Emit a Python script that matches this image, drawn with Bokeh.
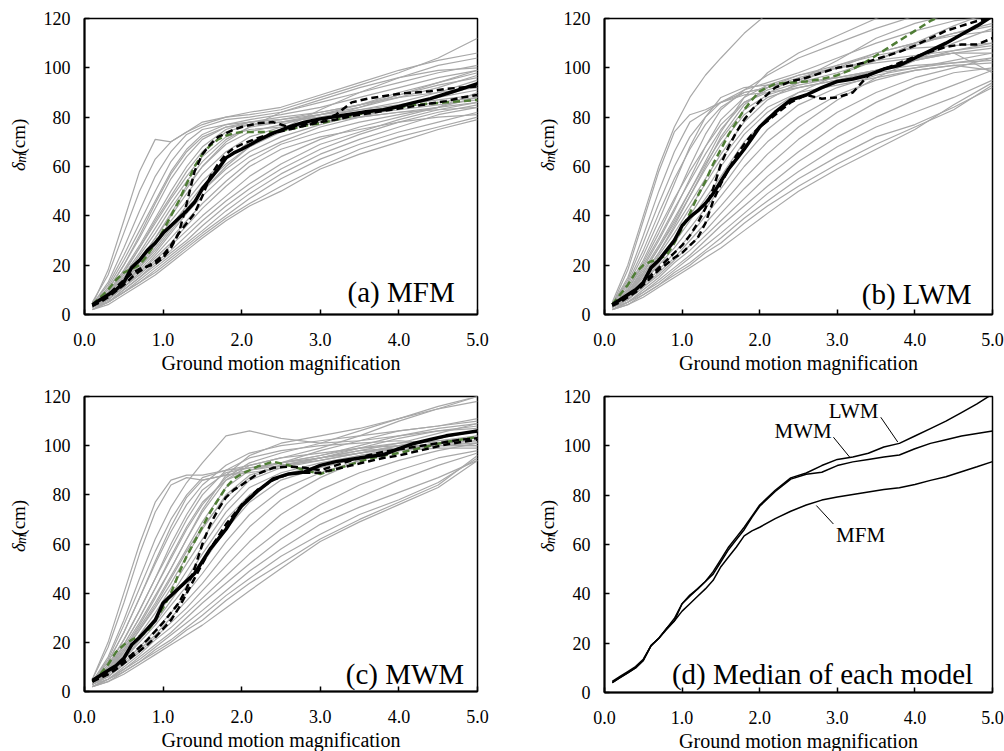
import numpy as np
from bokeh.plotting import figure
from bokeh.layouts import column, row
from bokeh.models import Range1d, FixedTicker, PrintfTickFormatter, Label
from bokeh.embed import file_html
from bokeh.resources import INLINE
from bokeh.core.properties import value

# ---------------- data ----------------
XG = [0.1, 0.3, 0.5, 0.7, 0.9, 1.1, 1.3, 1.5, 1.8, 2.1, 2.5, 3.0, 3.5, 4.0, 4.5, 5.0]
XM = [0.1, 0.2, 0.3, 0.4, 0.5, 0.6, 0.7, 0.8, 0.9, 1.0, 1.1, 1.2, 1.3, 1.4, 1.5, 1.6, 1.7, 1.8, 1.9, 2.0,
      2.2, 2.4, 2.6, 2.8, 3.0, 3.2, 3.4, 3.6, 3.8, 4.0, 4.2, 4.4, 4.6, 4.8, 5.0]
X_TICKS = [0, 1, 2, 3, 4, 5]
Y_TICKS = [0, 20, 40, 60, 80, 100, 120]

mfm_gray = [
    [4, 18, 38, 58, 71, 70, 74, 77, 80, 81, 83, 88, 93, 98, 104, 112],
    [5, 16, 33, 50, 63, 70, 74, 78, 80, 82, 84, 89, 94, 99, 103, 106],
    [4, 13, 27, 42, 56, 66, 73, 76, 79, 80, 82, 86, 90, 94, 98, 101],
    [4, 12, 24, 37, 50, 62, 70, 75, 77, 79, 81, 84, 88, 92, 96, 99],
    [3, 11, 22, 34, 46, 58, 67, 73, 77, 78, 79, 82, 85, 88, 90, 92],
    [4, 10, 20, 31, 43, 55, 64, 71, 76, 78, 79, 81, 83, 85, 87, 89],
    [3, 9, 17, 27, 38, 48, 58, 66, 74, 77, 78, 81, 84, 88, 92, 97],
    [3, 8, 16, 25, 35, 45, 54, 62, 71, 76, 78, 80, 83, 86, 90, 95],
    [3, 8, 15, 24, 33, 43, 52, 60, 69, 74, 77, 81, 85, 90, 94, 98],
    [3, 7, 14, 22, 31, 40, 49, 57, 66, 72, 76, 79, 81, 83, 85, 87],
    [3, 7, 13, 21, 29, 38, 46, 54, 63, 70, 75, 78, 80, 82, 84, 86],
    [3, 7, 13, 20, 28, 36, 44, 52, 61, 68, 74, 79, 84, 89, 94, 99],
    [3, 6, 12, 19, 27, 35, 43, 50, 59, 66, 72, 77, 81, 85, 88, 91],
    [3, 6, 12, 18, 25, 33, 41, 48, 57, 64, 70, 76, 80, 84, 88, 93],
    [3, 6, 11, 17, 24, 31, 38, 45, 54, 62, 69, 74, 78, 81, 84, 88],
    [3, 6, 11, 16, 22, 28, 34, 40, 48, 56, 64, 71, 76, 80, 84, 90],
    [3, 5, 10, 15, 21, 26, 32, 38, 46, 53, 61, 69, 74, 79, 83, 86],
    [3, 5, 10, 15, 20, 25, 30, 36, 44, 51, 59, 67, 73, 78, 82, 85],
    [2, 5, 9, 14, 19, 24, 29, 34, 42, 49, 57, 65, 71, 76, 81, 84],
    [2, 5, 9, 13, 18, 23, 28, 33, 40, 47, 55, 63, 69, 74, 78, 82],
    [2, 5, 9, 13, 17, 22, 27, 32, 39, 45, 52, 60, 67, 72, 76, 80],
    [2, 4, 8, 12, 16, 21, 26, 31, 38, 44, 50, 59, 65, 70, 75, 79],
    [3, 6, 12, 19, 26, 34, 42, 50, 60, 68, 75, 83, 90, 96, 101, 104],
    [3, 7, 14, 22, 31, 41, 51, 60, 70, 76, 82, 87, 92, 96, 99, 100],
    [4, 9, 18, 28, 39, 50, 60, 68, 75, 78, 80, 82, 85, 89, 93, 96],
    [4, 10, 20, 32, 45, 57, 66, 72, 76, 77, 78, 80, 82, 84, 86, 88],
    [3, 8, 17, 27, 37, 47, 56, 64, 72, 75, 76, 78, 80, 82, 83, 84],
    [3, 6, 11, 17, 23, 29, 36, 43, 52, 60, 67, 72, 75, 78, 80, 81],
]
mfm_median = [4, 6, 8, 10, 13, 19, 22, 26, 29, 33, 36, 39, 42, 45.5, 51, 55, 59, 63.5, 65.5, 67,
              70.5, 73.5, 76, 78, 79.3, 80.3, 81.3, 82.3, 83, 84.3, 86, 87.5, 89.5, 91.5, 93.6]
mfm_upper = [3.5, 5.5, 8, 11, 14, 16.5, 18.5, 19.5, 20.5, 23, 27, 33, 45, 58, 65, 69, 72, 73.5, 75, 76,
             77.5, 78, 76, 77, 78.5, 81, 86, 87.5, 88.5, 89.5, 90, 90.5, 91.5, 92, 92.5]
mfm_lower = [3.5, 5, 7, 9.5, 12, 15, 17.5, 19.5, 21.5, 24, 28, 33, 37, 41, 48, 56, 61, 65, 67.5, 69,
             71.5, 73.5, 75, 76.5, 78, 79, 80.5, 81.5, 82.5, 83.5, 84.5, 85.5, 86.5, 88, 89]
mfm_green = [4, 7, 10, 14, 17, 18.5, 20, 24, 29, 34, 40, 46, 53, 60, 65, 68.5, 71, 72.5, 73.5, 74,
             74, 74, 75, 76.5, 77.5, 79, 80.5, 82, 83, 84, 85, 85.5, 86, 86.5, 87]

lwm_gray = [
    [5, 20, 40, 60, 76, 88, 97, 104, 114, 122, 128, 132, 136, 140, 144, 148],
    [4, 18, 38, 58, 74, 81, 83, 86, 90, 92, 95, 100, 106, 110, 114, 117],
    [4, 15, 32, 50, 66, 78, 82, 86, 91, 97, 104, 110, 116, 121, 126, 130],
    [4, 14, 29, 45, 60, 72, 80, 86, 89, 90, 92, 95, 99, 103, 106, 108],
    [4, 13, 26, 41, 55, 67, 77, 84, 90, 92, 96, 100, 103, 105, 107, 110],
    [3, 11, 22, 35, 47, 58, 68, 77, 86, 90, 94, 98, 103, 110, 117, 123],
    [3, 10, 20, 31, 43, 54, 65, 75, 86, 91, 95, 103, 112, 118, 122, 125],
    [3, 9, 18, 28, 39, 50, 61, 71, 83, 89, 93, 96, 99, 101, 102, 103],
    [3, 9, 17, 27, 37, 48, 59, 69, 81, 88, 92, 95, 98, 100, 102, 104],
    [3, 8, 16, 25, 35, 45, 55, 65, 78, 87, 94, 101, 106, 110, 113, 115],
    [3, 8, 15, 24, 33, 43, 53, 63, 75, 84, 90, 93, 96, 99, 101, 99],
    [3, 7, 14, 22, 31, 40, 50, 60, 73, 82, 90, 97, 103, 109, 114, 118],
    [3, 7, 13, 21, 29, 38, 47, 56, 70, 80, 88, 94, 99, 103, 107, 109],
    [3, 7, 13, 20, 27, 35, 43, 51, 64, 75, 85, 92, 97, 100, 103, 106],
    [3, 6, 12, 18, 25, 32, 40, 48, 60, 70, 80, 89, 95, 99, 101, 102],
    [3, 6, 11, 17, 23, 30, 37, 44, 55, 65, 76, 87, 96, 103, 110, 116],
    [3, 6, 11, 16, 22, 28, 34, 41, 51, 60, 71, 82, 90, 96, 100, 104],
    [3, 5, 10, 15, 21, 26, 32, 38, 47, 56, 66, 77, 86, 93, 98, 100],
    [2, 5, 9, 14, 19, 24, 30, 36, 44, 52, 62, 72, 80, 87, 93, 99],
    [2, 5, 9, 13, 18, 23, 28, 33, 41, 49, 58, 68, 76, 82, 88, 95],
    [2, 5, 8, 12, 17, 21, 26, 31, 39, 46, 55, 64, 72, 77, 84, 92],
    [2, 4, 8, 12, 16, 20, 25, 29, 37, 44, 52, 61, 69, 76, 83, 93],
    [2, 4, 7, 11, 15, 19, 23, 27, 34, 41, 50, 59, 67, 75, 85, 94],
    [3, 8, 17, 27, 38, 50, 62, 74, 88, 98, 106, 113, 120, 126, 130, 134],
    [3, 10, 21, 33, 46, 60, 73, 83, 91, 94, 98, 104, 110, 115, 119, 121],
    [4, 12, 24, 38, 53, 68, 80, 88, 92, 93, 94, 96, 99, 103, 106, 106],
    [3, 9, 19, 30, 42, 55, 68, 79, 88, 93, 97, 101, 105, 108, 109, 110],
    [3, 8, 16, 25, 36, 48, 60, 72, 85, 92, 97, 100, 102, 104, 106, 98],
]
lwm_median = [4, 6, 8, 10, 13, 19, 22, 26, 30, 36, 39.5, 42, 45, 49, 54, 59, 63, 67, 71.5, 76,
              82, 87, 89, 92, 94.5, 95.5, 97, 99.5, 101, 104, 107, 110, 113.5, 117, 121]
lwm_upper = [4, 6, 8, 10, 13, 16, 19, 22, 25, 28, 32, 37, 43, 51, 61, 68, 74, 79, 83, 86.5,
             92, 94.5, 96, 98, 100, 101, 102.5, 104.5, 106.5, 109, 112, 115, 117, 119, 120.5]
lwm_lower = [3.5, 5, 7, 9, 12, 15, 18, 20.5, 23, 25, 28, 31, 37, 46, 53, 59, 64.5, 69, 73, 76,
             81, 86, 89, 87.5, 88, 90, 97, 99.5, 102, 104.5, 106.5, 108.5, 109.5, 109.5, 112]
lwm_green = [4, 8, 12, 17, 20, 21.5, 22.5, 24, 29, 35, 41, 48, 54, 61, 67, 73, 78, 83, 87, 90.5,
             93.5, 94, 94.5, 95.5, 97, 99.5, 103, 107, 111, 115, 119, 122, 125, 128, 131]

mwm_gray = [
    [5, 20, 40, 60, 77, 86, 88, 88, 90, 92, 95, 99, 104, 110, 115, 120],
    [5, 18, 36, 56, 73, 84, 87, 86, 88, 90, 93, 98, 102, 106, 108, 110],
    [4, 14, 29, 46, 62, 75, 85, 93, 104, 106, 103, 101, 102, 104, 106, 108],
    [4, 13, 27, 42, 57, 70, 80, 87, 90, 91, 93, 96, 100, 104, 107, 109],
    [4, 12, 24, 38, 52, 65, 76, 84, 92, 97, 100, 102, 104, 106, 108, 111],
    [3, 11, 21, 33, 46, 58, 70, 80, 90, 95, 98, 100, 101, 102, 101, 101],
    [3, 10, 19, 30, 42, 54, 66, 76, 87, 93, 97, 101, 106, 111, 115, 118],
    [3, 9, 18, 28, 39, 50, 62, 73, 86, 92, 95, 97, 99, 101, 102, 103],
    [3, 9, 17, 26, 36, 47, 58, 69, 83, 90, 93, 96, 99, 100, 100, 100],
    [3, 8, 16, 25, 34, 44, 55, 66, 80, 88, 92, 95, 97, 100, 102, 104],
    [3, 8, 15, 23, 32, 42, 52, 62, 76, 86, 91, 95, 99, 103, 106, 107],
    [3, 7, 14, 22, 30, 39, 49, 59, 73, 83, 89, 93, 96, 98, 99, 99],
    [3, 7, 13, 21, 28, 37, 46, 56, 70, 80, 88, 92, 96, 99, 101, 102],
    [3, 7, 13, 20, 27, 35, 43, 52, 66, 77, 86, 91, 95, 98, 100, 100],
    [3, 6, 12, 18, 25, 32, 40, 48, 61, 72, 82, 89, 94, 98, 101, 104],
    [3, 6, 11, 17, 23, 30, 37, 44, 56, 67, 78, 87, 94, 99, 103, 106],
    [3, 6, 11, 16, 22, 28, 34, 41, 51, 61, 72, 82, 89, 94, 98, 101],
    [3, 5, 10, 15, 21, 26, 32, 38, 47, 56, 66, 76, 84, 90, 95, 98],
    [2, 5, 9, 14, 19, 24, 30, 36, 44, 52, 62, 72, 79, 86, 92, 97],
    [2, 5, 9, 13, 18, 23, 28, 33, 41, 49, 58, 68, 75, 81, 87, 94],
    [2, 5, 8, 12, 17, 21, 26, 31, 39, 46, 55, 64, 72, 78, 85, 95],
    [2, 4, 8, 12, 16, 20, 25, 29, 37, 44, 52, 62, 70, 77, 84, 96],
    [2, 4, 7, 11, 15, 19, 23, 27, 34, 41, 50, 61, 69, 76, 83, 94],
    [3, 8, 17, 27, 38, 50, 62, 74, 88, 96, 101, 104, 107, 111, 116, 120],
    [3, 10, 21, 33, 46, 60, 72, 82, 89, 91, 93, 95, 98, 101, 105, 109],
    [4, 12, 24, 38, 53, 67, 79, 86, 88, 89, 91, 94, 97, 100, 103, 106],
    [3, 9, 19, 30, 42, 55, 67, 77, 86, 90, 92, 94, 97, 99, 101, 102],
    [3, 8, 16, 25, 35, 46, 57, 67, 79, 87, 92, 95, 98, 99, 100, 101],
]
mwm_median = [4.5, 6.5, 8.5, 10.5, 13.5, 19, 22, 25.5, 29, 36, 39, 42, 45, 48, 53, 58, 62, 66, 71, 75.5,
              81.5, 86.5, 88.5, 89.3, 92, 93.5, 94.5, 95.5, 96.3, 98.8, 101, 102.5, 104, 105, 106]
mwm_upper = [4, 6, 8, 10, 12.5, 15, 18, 21, 24.5, 28, 32, 36, 42, 50, 60, 68, 74, 79, 82, 84,
             88.5, 91, 91.5, 91, 90, 92, 94, 96, 97.5, 98.5, 99.5, 100.5, 101.5, 102.5, 103]
mwm_lower = [4, 5.5, 7, 9, 11.5, 14, 16.5, 19, 22, 25.5, 29, 34, 40, 46, 52, 58, 63, 68, 72, 76,
             82, 86, 88.5, 89, 89, 90.5, 92, 93.5, 95, 96, 97.5, 99, 100.5, 101.5, 102.5]
mwm_green = [4, 7, 11, 16, 19, 21, 22.5, 24.5, 29, 34, 40, 48, 55, 61, 67, 73, 78, 83, 86.5, 88.5,
             91.5, 93.5, 92, 90, 88.5, 90.5, 92.5, 94.5, 96, 97, 98.5, 100, 101.5, 102.5, 103.5]

# annotation leader lines in panel (d)
lead_names = ["LWM", "MWM", "MFM"]
lead_text_x = [3.21, 2.56, 3.30]
lead_text_y = [114.2, 106.2, 63.9]
lead_x0 = [3.56, 2.95, 2.95]
lead_y0 = [111.6, 103.5, 68.3]
lead_x1 = [3.78, 3.16, 2.73]
lead_y1 = [101.5, 95.4, 75.8]

# ---------------- styling ----------------
FONT = "Liberation Serif"
GRAY = "#A8A8A8"
GREEN = "#4F7D35"


def ylabel_fig(w, h, bx, by):
    """Narrow canvas carrying the rotated y-axis title  δm(cm)."""
    p = figure(width=w, height=h, x_range=Range1d(0, w), y_range=Range1d(0, h),
               title=None, output_backend="svg", toolbar_location=None, min_border=0,
               x_axis_location=None, y_axis_location=None,
               outline_line_color=None, background_fill_color="white",
               border_fill_color="white")
    p.xgrid.visible = False
    p.ygrid.visible = False
    parts = [("δ", "italic", "19px", 0, 0), ("m", "italic", "14px", 10.5, 3),
             ("(cm)", "normal", "19px", 21, 0)]
    for txt, style, size, along, shift in parts:
        p.text(x=[bx + shift], y=[h - (by - along)], text=[txt], angle=np.pi / 2,
               text_font=value(FONT), text_font_style=style, text_font_size=size,
               text_color="black", text_align="left", text_baseline="alphabetic")
    return p


def make_panel(g, panel_text, tx, ty):
    p = figure(frame_width=g["fw"], frame_height=g["fh"],
               x_range=Range1d(0, 5), y_range=Range1d(0, 120),
               output_backend="svg", toolbar_location=None,
               min_border_left=g["l"], min_border_right=g["r"],
               min_border_top=g["t"], min_border_bottom=g["b"],
               background_fill_color="white", border_fill_color="white")
    p.xgrid.visible = False
    p.ygrid.visible = False
    p.outline_line_color = "black"
    p.outline_line_width = 1.5
    p.outline_line_alpha = 1.0
    for ax in (p.xaxis[0], p.yaxis[0]):
        ax.axis_line_width = 2
        ax.axis_line_color = "black"
        ax.major_tick_in = 5
        ax.major_tick_out = 0
        ax.major_tick_line_width = 1.5
        ax.minor_tick_line_color = None
        ax.major_label_text_font = FONT
        ax.major_label_text_font_size = "18px"
        ax.major_label_text_color = "black"
        ax.major_label_text_line_height = 1.0
        ax.axis_label_text_font = FONT
        ax.axis_label_text_font_size = "20px"
        ax.axis_label_text_font_style = "normal"
        ax.axis_label_text_color = "black"
        ax.axis_label_text_line_height = 1.0
    p.xaxis.ticker = FixedTicker(ticks=X_TICKS)
    p.xaxis.formatter = PrintfTickFormatter(format="%.1f")
    p.yaxis.ticker = FixedTicker(ticks=Y_TICKS)
    p.xaxis.major_label_standoff = 18
    p.yaxis.major_label_standoff = g["ystand"]
    p.xaxis.axis_label = "Ground motion magnification"
    p.xaxis.axis_label_standoff = 3

    p.add_layout(Label(x=tx, y=ty, text=panel_text, text_font=FONT,
                       text_font_size="29px", text_color="black",
                       text_align="right", text_baseline="alphabetic"))
    return p


def add_family(p, gray, med, upper, lower, green):
    p.multi_line(xs=[XG] * len(gray), ys=gray, line_color=GRAY, line_width=1.2)
    p.line(XM, green, line_color=GREEN, line_width=2.5, line_dash="7 4")
    p.line(XM, upper, line_color="black", line_width=2.5, line_dash="7 4")
    p.line(XM, lower, line_color="black", line_width=2.5, line_dash="7 4")
    p.line(XM, med, line_color="black", line_width=3.5)


# label-canvas width + panel geometry (pixels)
geo_a = dict(lw=40, l=43, r=26, t=18, b=61, fw=393, fh=296, ystand=14, ylab=(18, 194))
geo_b = dict(lw=57, l=42, r=15, t=17, b=62, fw=388, fh=296, ystand=14, ylab=(44, 194))
geo_c = dict(lw=40, l=43, r=26, t=20, b=61, fw=393, fh=295, ystand=14, ylab=(18, 199))
geo_d = dict(lw=57, l=42, r=15, t=19, b=61, fw=388, fh=296, ystand=14, ylab=(44, 199))


def total_h(g):
    return g["t"] + g["fh"] + g["b"]


pa = make_panel(geo_a, "(a) MFM", 4.71, 9.0)
add_family(pa, mfm_gray, mfm_median, mfm_upper, mfm_lower, mfm_green)

pb = make_panel(geo_b, "(b) LWM", 4.73, 8.5)
add_family(pb, lwm_gray, lwm_median, lwm_upper, lwm_lower, lwm_green)

pc = make_panel(geo_c, "(c) MWM", 4.83, 7.3)
add_family(pc, mwm_gray, mwm_median, mwm_upper, mwm_lower, mwm_green)

pd = make_panel(geo_d, "(d) Median of each model", 4.75, 7.7)
for med in (mfm_median, lwm_median, mwm_median):
    pd.line(XM, med, line_color="black", line_width=1.5)
pd.segment(x0=lead_x0, y0=lead_y0, x1=lead_x1, y1=lead_y1, line_color="black", line_width=1)
for name, x, y in zip(lead_names, lead_text_x, lead_text_y):
    pd.add_layout(Label(x=x, y=y, text=name, text_font=FONT, text_font_size="21px",
                        text_color="black", text_align="center", text_baseline="middle"))

la = ylabel_fig(geo_a["lw"], total_h(geo_a), *geo_a["ylab"])
lb = ylabel_fig(geo_b["lw"], total_h(geo_b), *geo_b["ylab"])
lc = ylabel_fig(geo_c["lw"], total_h(geo_c), *geo_c["ylab"])
ld = ylabel_fig(geo_d["lw"], total_h(geo_d), *geo_d["ylab"])

layout = column(row(la, pa, lb, pb), row(lc, pc, ld, pd))
open("out.html", "w").write(file_html(layout, INLINE))
